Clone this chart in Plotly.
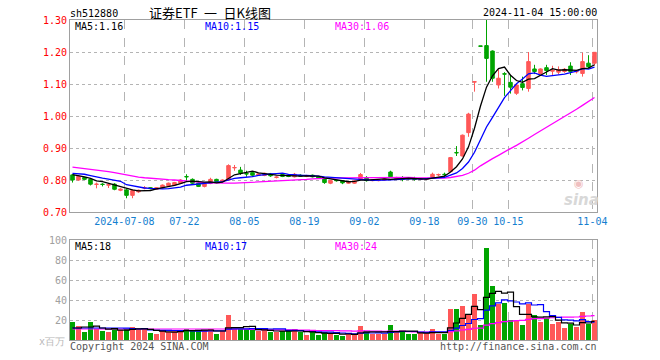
import plotly.graph_objects as go

# ---------------- data ----------------
opens = [0.816, 0.800, 0.808, 0.802, 0.786, 0.787, 0.784, 0.787, 0.768, 0.769,
         0.752, 0.763, 0.775, 0.776, 0.771, 0.776, 0.782, 0.784, 0.790, 0.811,
         0.802, 0.790, 0.780, 0.789, 0.802, 0.795, 0.800, 0.838, 0.831, 0.820,
         0.823, 0.815, 0.814, 0.819, 0.808, 0.817, 0.815, 0.810, 0.815, 0.812,
         0.815, 0.810, 0.805, 0.790, 0.799, 0.798, 0.790, 0.790, 0.803, 0.808,
         0.798, 0.798, 0.800, 0.825, 0.804, 0.808, 0.806, 0.803, 0.802, 0.802,
         0.808, 0.816, 0.818, 0.826, 0.886, 0.875, 0.948, 1.106, 1.219, 1.220,
         1.203, 1.097, 1.132, 1.105, 1.071, 1.101, 1.086, 1.147, 1.133, 1.151,
         1.140, 1.137, 1.139, 1.156, 1.138, 1.133, 1.165, 1.165]
highs = [0.818, 0.815, 0.810, 0.805, 0.792, 0.790, 0.790, 0.790, 0.774, 0.772,
         0.771, 0.770, 0.781, 0.778, 0.778, 0.786, 0.792, 0.794, 0.803, 0.818,
         0.805, 0.792, 0.790, 0.807, 0.804, 0.802, 0.849, 0.847, 0.841, 0.829,
         0.828, 0.821, 0.823, 0.822, 0.812, 0.820, 0.817, 0.822, 0.818, 0.816,
         0.817, 0.812, 0.807, 0.800, 0.800, 0.800, 0.796, 0.799, 0.822, 0.812,
         0.801, 0.802, 0.804, 0.829, 0.810, 0.812, 0.808, 0.810, 0.806, 0.806,
         0.823, 0.820, 0.823, 0.872, 0.906, 0.942, 1.010, 1.107, 1.219, 1.300,
         1.205, 1.146, 1.137, 1.128, 1.100, 1.123, 1.200, 1.160, 1.149, 1.160,
         1.157, 1.155, 1.150, 1.168, 1.144, 1.198, 1.190, 1.200]
lows = [0.792, 0.798, 0.800, 0.783, 0.774, 0.780, 0.775, 0.768, 0.765, 0.743,
        0.743, 0.760, 0.771, 0.771, 0.769, 0.774, 0.780, 0.782, 0.788, 0.797,
        0.787, 0.778, 0.777, 0.787, 0.793, 0.793, 0.798, 0.829, 0.816, 0.810,
        0.810, 0.813, 0.812, 0.810, 0.805, 0.809, 0.809, 0.808, 0.810, 0.809,
        0.808, 0.804, 0.788, 0.787, 0.795, 0.787, 0.788, 0.788, 0.802, 0.795,
        0.796, 0.796, 0.798, 0.808, 0.802, 0.796, 0.802, 0.798, 0.800, 0.800,
        0.806, 0.812, 0.810, 0.824, 0.875, 0.873, 0.935, 1.076, 1.218, 1.107,
        1.107, 1.086, 1.063, 1.070, 1.066, 1.080, 1.076, 1.131, 1.130, 1.128,
        1.128, 1.130, 1.135, 1.128, 1.133, 1.123, 1.150, 1.158]
closes = [0.800, 0.812, 0.802, 0.787, 0.787, 0.786, 0.785, 0.771, 0.771, 0.752,
          0.767, 0.768, 0.776, 0.773, 0.776, 0.784, 0.790, 0.792, 0.800, 0.810,
          0.790, 0.780, 0.788, 0.802, 0.795, 0.800, 0.845, 0.839, 0.821, 0.819,
          0.815, 0.819, 0.821, 0.813, 0.809, 0.811, 0.811, 0.818, 0.812, 0.813,
          0.810, 0.806, 0.792, 0.798, 0.798, 0.791, 0.794, 0.797, 0.817, 0.798,
          0.800, 0.800, 0.803, 0.810, 0.808, 0.802, 0.804, 0.802, 0.803, 0.804,
          0.818, 0.817, 0.817, 0.870, 0.885, 0.940, 1.006, 1.107, 1.218, 1.180,
          1.118, 1.118, 1.131, 1.090, 1.097, 1.089, 1.170, 1.139, 1.147, 1.142,
          1.143, 1.145, 1.146, 1.139, 1.139, 1.170, 1.154, 1.199]
volumes = [18, 14, 8, 18, 11, 9, 8, 11, 10, 11,
           13, 11, 11, 7, 6, 9, 8, 9, 10, 11,
           9, 9, 10, 11, 6, 9, 25, 11, 11, 11,
           10, 9, 10, 8, 8, 9, 9, 11, 8, 5,
           8, 5, 8, 7, 5, 4, 6, 6, 14, 9,
           6, 6, 6, 15, 9, 8, 6, 6, 7, 7,
           11, 6, 6, 31, 31, 34, 26, 46, 15, 92,
           54, 36, 37, 20, 20, 15, 36, 25, 18, 22,
           16, 18, 12, 16, 13, 28, 16, 20]

# moving-average values before enough history exists
ma5_head = [0.817, 0.814, 0.810, 0.805]
ma10_head = [0.821, 0.820, 0.818, 0.814, 0.809, 0.806, 0.803, 0.800, 0.796]
ma30_head = [0.840, 0.838, 0.836, 0.834, 0.831, 0.829, 0.826, 0.823, 0.819, 0.816,
             0.812, 0.809, 0.807, 0.805, 0.804, 0.803, 0.801, 0.800, 0.798, 0.797,
             0.795, 0.793, 0.792, 0.791, 0.790, 0.790, 0.790, 0.790, 0.791]
vma5_head = [12, 12, 13, 13]
vma10_head = [12, 12, 12, 12, 12, 12, 12, 12, 12]
vma30_head = [11, 11, 11, 11, 11, 11, 11, 11, 11, 11, 11, 11, 11, 11, 11,
              11, 11, 11, 11, 11, 11, 11, 11, 11, 11, 11, 11, 11, 11]

tick_index = [9, 19, 29, 39, 49, 59, 67, 73, 87]
tick_labels = ["2024-07-08", "07-22", "08-05", "08-19", "09-02", "09-18",
               "09-30", "10-15", "11-04"]
price_ticks = [0.70, 0.80, 0.90, 1.00, 1.10, 1.20, 1.30]
vol_ticks = [20, 40, 60, 80, 100]

title_text = "证券ETF\u2002一\u2002日K线图"
code_text = "sh512880"
time_text = "2024-11-04 15:00:00"
price_ma_labels = ["MA5:1.16", "MA10:1.15", "MA30:1.06"]
vol_ma_labels = ["MA5:18", "MA10:17", "MA30:24"]


def moving_average(values, n, head):
    out = []
    for i in range(len(values)):
        if i < n - 1:
            out.append(head[i])
        else:
            out.append(sum(values[i - n + 1:i + 1]) / n)
    return out


n = len(closes)
xs = list(range(n))
ma5 = moving_average(closes, 5, ma5_head)
ma10 = moving_average(closes, 10, ma10_head)
ma30 = moving_average(closes, 30, ma30_head)
vma5 = moving_average(volumes, 5, vma5_head)
vma10 = moving_average(volumes, 10, vma10_head)
vma30 = moving_average(volumes, 30, vma30_head)

RED = "#ff5858"
GREEN = "#00a400"
vol_colors = [RED if c >= o else GREEN for o, c in zip(opens, closes)]

# ---------------- geometry (page pixels) ----------------
W, H = 660, 360
L, R, T, B = 70, 597, 20, 340
PW, PH = R - L, B - T


def px(xp):
    return (xp - L) / PW


def py(yp):
    return (B - yp) / PH


fig = go.Figure()

fig.add_trace(go.Candlestick(
    x=xs, open=opens, high=highs, low=lows, close=closes,
    increasing=dict(line=dict(color=RED, width=1), fillcolor=RED),
    decreasing=dict(line=dict(color=GREEN, width=1), fillcolor=GREEN),
    whiskerwidth=0, hoverinfo="skip", xaxis="x", yaxis="y", showlegend=False))

for vals, col in [(ma30, "#ff00ff"), (ma10, "#0000ff"), (ma5, "#000000")]:
    fig.add_trace(go.Scatter(x=xs, y=vals, mode="lines",
                             line=dict(color=col, width=1.3),
                             hoverinfo="skip", xaxis="x", yaxis="y", showlegend=False))

fig.add_trace(go.Bar(x=xs, y=volumes, marker=dict(color=vol_colors, line=dict(width=0)),
                     width=0.84, hoverinfo="skip", xaxis="x2", yaxis="y2", showlegend=False))

for vals, col in [(vma30, "#ff00ff"), (vma10, "#0000ff"), (vma5, "#000000")]:
    fig.add_trace(go.Scatter(x=xs, y=vals, mode="lines",
                             line=dict(color=col, width=1.2, shape="hvh"),
                             hoverinfo="skip", xaxis="x2", yaxis="y2", showlegend=False))

grid_x = [i - 0.35 for i in tick_index]
xr = [(L - 72.5) / 6.0, (R - 72.5) / 6.0]
frame = "#a0a0a0"
gridc = "#b4b4b4"

common_x = dict(range=xr, showgrid=True, gridcolor=gridc, griddash="dash", gridwidth=1,
                tickvals=grid_x, showline=True, mirror=True, linecolor=frame, linewidth=1,
                zeroline=False, fixedrange=True, ticks="")

fig.update_layout(
    width=W, height=H,
    margin=dict(l=L, r=W - R, t=T, b=H - B, autoexpand=False),
    paper_bgcolor="white", plot_bgcolor="white",
    font=dict(family="DejaVu Sans Mono", size=10, color="black"),
    boxgap=0.16,
    showlegend=False,
    xaxis=dict(domain=[0, 1], anchor="y", ticktext=tick_labels,
               tickfont=dict(color="#1580d0", size=10),
               rangeslider=dict(visible=False), **common_x),
    xaxis2=dict(domain=[0, 1], anchor="y2", showticklabels=False, **common_x),
    yaxis=dict(domain=[py(212), 1], anchor="x", range=[0.70, 1.30], tickvals=price_ticks,
               tickformat=".2f", showgrid=True, gridcolor=gridc, griddash="dot",
               ticks="", tickfont=dict(color="#ff0000", size=10),
               showline=True, mirror=True, linecolor=frame, linewidth=1,
               zeroline=False, fixedrange=True),
    yaxis2=dict(domain=[0, py(240)], anchor="x2", range=[0, 100], tickvals=vol_ticks,
                showgrid=True, gridcolor=gridc, griddash="dot",
                ticks="", tickfont=dict(color="#a0a0a0", size=10),
                showline=True, mirror=True, linecolor=frame, linewidth=1,
                zeroline=False, fixedrange=True),
)

ann = []


def add_text(text, xp, yp, anchor="left", color="black", size=10, family=None, **kw):
    f = dict(color=color, size=size)
    if family:
        f["family"] = family
    ann.append(dict(text=text, x=px(xp), y=py(yp), xref="paper", yref="paper",
                    xanchor=anchor, yanchor="middle", showarrow=False, font=f,
                    borderpad=0, **kw))


add_text(code_text, 69, 13.5)
add_text(title_text, 210, 12, anchor="center", size=13, family="Noto Sans CJK SC")
add_text(time_text, 598, 12.5, anchor="right")
ma_cols = ["#000000", "#0000ff", "#ff00ff"]
for lab, xpos, col in zip(price_ma_labels, [74, 204, 334], ma_cols):
    add_text(lab, xpos, 26, color=col)
for lab, xpos, col in zip(vol_ma_labels, [74, 204, 334], ma_cols):
    add_text(lab, xpos, 246, color=col)
add_text("x百万", 66, 341, anchor="right", color="#b8b8b8", size=10)
add_text("Copyright 2024 SINA.COM", 69, 346, color="#555555")
add_text("http://finance.sina.com.cn", 598, 346, anchor="right", color="#555555")
add_text("<b><i>sina</i></b>", 581, 200, anchor="center", color="#d8d8d8", size=15,
         family="DejaVu Sans")
add_text("◉", 579, 183, anchor="center", color="#f0c0c0", size=11, family="DejaVu Sans")

fig.update_layout(annotations=ann)

# remove the default 8px page margin so the figure sits at the window's top-left corner
fig.write_html("out.html",
               config={"displayModeBar": False, "staticPlot": True},
               post_script="document.body.style.margin='0px';document.body.style.overflow='hidden';")
